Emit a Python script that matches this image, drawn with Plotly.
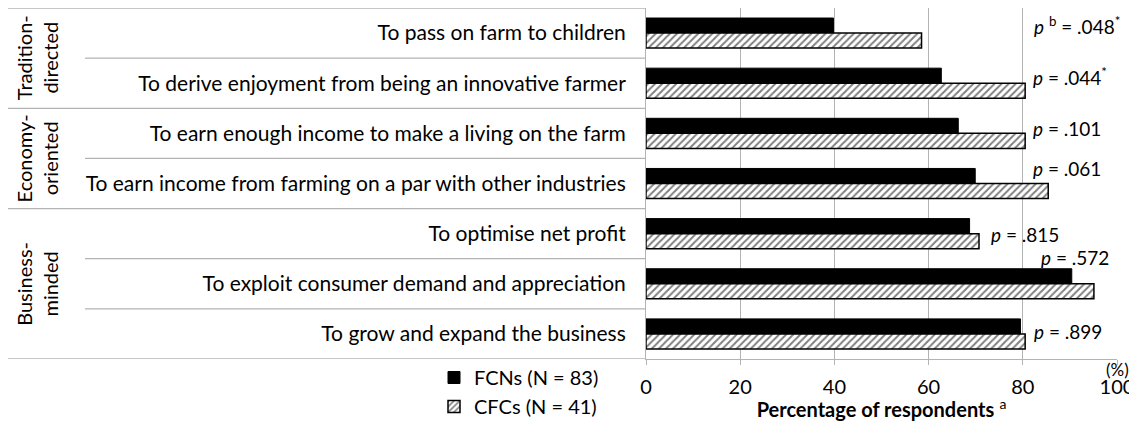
import plotly.graph_objects as go

# ---- data ----
items = [
    "To pass on farm to children",
    "To derive enjoyment from being an innovative farmer",
    "To earn enough income to make a living on the farm",
    "To earn income from farming on a par with other industries",
    "To optimise net profit",
    "To exploit consumer demand and appreciation",
    "To grow and expand the business",
]
fcn_pct = [39.8, 62.7, 66.3, 69.9, 68.7, 90.4, 79.5]
cfc_pct = [58.5, 80.5, 80.5, 85.4, 70.7, 95.1, 80.5]
p_labels = [
    "<i>p</i> <sup>b</sup> = .048<sup>*</sup>",
    "<i>p</i> = .044<sup>*</sup>",
    "<i>p</i> = .101",
    "<i>p</i> = .061",
    "<i>p</i> = .815",
    "<i>p</i> = .572",
    "<i>p</i> = .899",
]
groups = ["Tradition-<br>directed", "Economy-<br>oriented", "Business-<br>minded"]
group_rows = [(0, 1), (2, 3), (4, 6)]
series_names = ["FCNs (N = 83)", "CFCs (N = 41)"]
x_ticks = [0, 20, 40, 60, 80, 100]

# ---- style ----
FONT = "Lato, sans-serif"
FS = 21
GRID = "#b3b3b3"
# p-label placement (x in data units, vertical pixel shift)
p_pos = [(82.0, 8), (81.8, 7), (81.8, 5), (81.8, 15), (72.8, -1), (83.4, 26), (82.0, 2)]

fig = go.Figure()
fig.add_bar(
    y=items, x=fcn_pct, orientation="h", name=series_names[0],
    marker=dict(color="black", line=dict(color="black", width=1)),
)
fig.add_bar(
    y=items, x=cfc_pct, orientation="h", name=series_names[1],
    marker=dict(color="white", line=dict(color="black", width=1.5),
                pattern=dict(shape="/", fgcolor="black", bgcolor="white",
                             size=5, solidity=0.4)),
)

# page has an 8px body margin: figure origin sits at page (8, 8)
OFF = 8
W, H = 1137 - OFF, 421 - OFF
L = 646 - OFF
R = 1137 - 1117
T = 8 - OFF
B = 421 - 359
pw = W - L - R
ph = H - T - B

def px_to_paper_x(px):   # px = page pixel
    return (px - OFF - L) / pw

def px_to_paper_y(py):   # py = page pixel
    return (H - B - (py - OFF)) / ph

shapes = []
group_bounds = [-0.5] + [g[1] + 0.5 for g in group_rows]
for i in range(len(items) - 1):
    b = i + 0.5
    if b in group_bounds:
        continue
    shapes.append(dict(type="line", xref="paper", yref="y",
                       x0=px_to_paper_x(85), x1=0, y0=b, y1=b,
                       line=dict(color=GRID, width=1.3)))
for b in group_bounds:
    shapes.append(dict(type="line", xref="paper", yref="y",
                       x0=px_to_paper_x(8), x1=0, y0=b, y1=b,
                       line=dict(color=GRID, width=1.3)))

annotations = []
for (g, (a, b)) in zip(groups, group_rows):
    annotations.append(dict(
        text=g, xref="paper", yref="y", x=px_to_paper_x(37), y=(a + b) / 2,
        textangle=-90, showarrow=False, xanchor="center", yanchor="middle",
        font=dict(family=FONT, size=20, color="black"),
    ))
for lab, it, (px_, dy) in zip(p_labels, items, p_pos):
    annotations.append(dict(
        text=lab, xref="x", yref="y", x=px_, y=it, yshift=dy,
        showarrow=False, xanchor="left", yanchor="middle",
        font=dict(family=FONT, size=19, color="black"),
    ))
annotations.append(dict(
    text="(%)", xref="x", yref="paper", x=100, y=px_to_paper_y(369),
    showarrow=False, xanchor="center", yanchor="middle",
    font=dict(family=FONT, size=17, color="black"),
))

fig.update_layout(
    width=W, height=H,
    margin=dict(l=L, r=R, t=T, b=B, pad=0, autoexpand=False),
    paper_bgcolor="white", plot_bgcolor="white",
    barmode="group", bargap=0.40, bargroupgap=0,
    font=dict(family=FONT, size=FS, color="black"),
    shapes=shapes, annotations=annotations,
    showlegend=True,
    legend=dict(
        x=px_to_paper_x(434), y=px_to_paper_y(358), xanchor="left", yanchor="top",
        traceorder="normal", orientation="v", bgcolor="rgba(0,0,0,0)",
        font=dict(family=FONT, size=20, color="black"),
        tracegroupgap=0, itemwidth=30,
    ),
    xaxis=dict(
        range=[0, 100], tickvals=x_ticks, ticktext=[str(v) for v in x_ticks],
        showgrid=True, gridcolor=GRID, gridwidth=1,
        showline=True, linecolor=GRID, linewidth=1,
        ticks="outside", ticklen=5, tickcolor=GRID,
        ticklabelstandoff=5,
        zeroline=False,
        tickfont=dict(family=FONT, size=20, color="black"),
        title=dict(text="<b>Percentage of respondents</b> <sup>a</sup>",
                   font=dict(family=FONT, size=20, color="black"), standoff=2),
    ),
    yaxis=dict(
        categoryorder="array", categoryarray=items, range=[6.5, -0.5],
        showgrid=False, showline=True, linecolor=GRID, linewidth=1,
        ticks="", ticklabelstandoff=15, zeroline=False,
        tickfont=dict(family=FONT, size=FS, color="black"),
    ),
)

fig.write_html("out.html")
